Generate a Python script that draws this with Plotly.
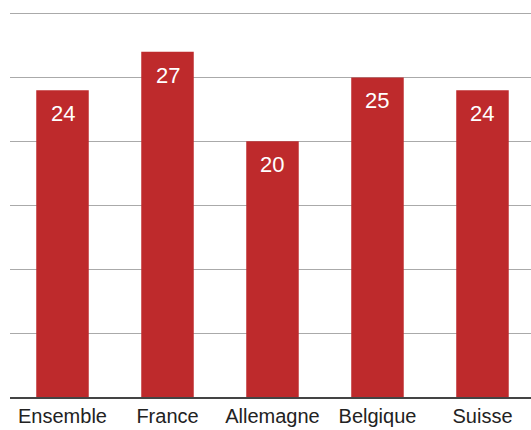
import plotly.graph_objects as go

categories = ["Ensemble", "France", "Allemagne", "Belgique", "Suisse"]
values = [24, 27, 20, 25, 24]
y_ticks = [0, 5, 10, 15, 20, 25, 30]

bar_color = "#BE2A2C"

fig = go.Figure()
fig.add_trace(go.Bar(
    x=categories, y=values, width=0.5,
    marker=dict(color=bar_color, line=dict(width=0)),
    hoverinfo="skip",
))

for c, v in zip(categories, values):
    fig.add_annotation(
        x=c, y=v, text=str(v), showarrow=False,
        yanchor="top", yshift=-9,
        font=dict(family="Liberation Sans, Arial, sans-serif", size=22, color="white"),
    )

fig.update_layout(
    width=531, height=430,
    margin=dict(l=10, r=0, t=8, b=33),
    paper_bgcolor="white", plot_bgcolor="white",
    showlegend=False,
    bargap=0.5,
    xaxis=dict(
        range=[-0.5, 4.462],
        showgrid=False, showline=True, linecolor="#444", linewidth=1.5,
        ticks="", tickfont=dict(family="Liberation Sans, Arial, sans-serif", size=20, color="#222"),
        fixedrange=True,
    ),
    yaxis=dict(
        range=[0, 30.43], tickvals=y_ticks, showticklabels=False,
        showgrid=True, gridcolor="#AAAAAA", gridwidth=1.2,
        zeroline=False, showline=False, ticks="",
        fixedrange=True,
    ),
)

fig.write_html(
    "out.html",
    config={"displayModeBar": False},
    post_script="document.body.style.margin='0';document.body.style.padding='0';document.body.style.overflow='hidden';",
)
